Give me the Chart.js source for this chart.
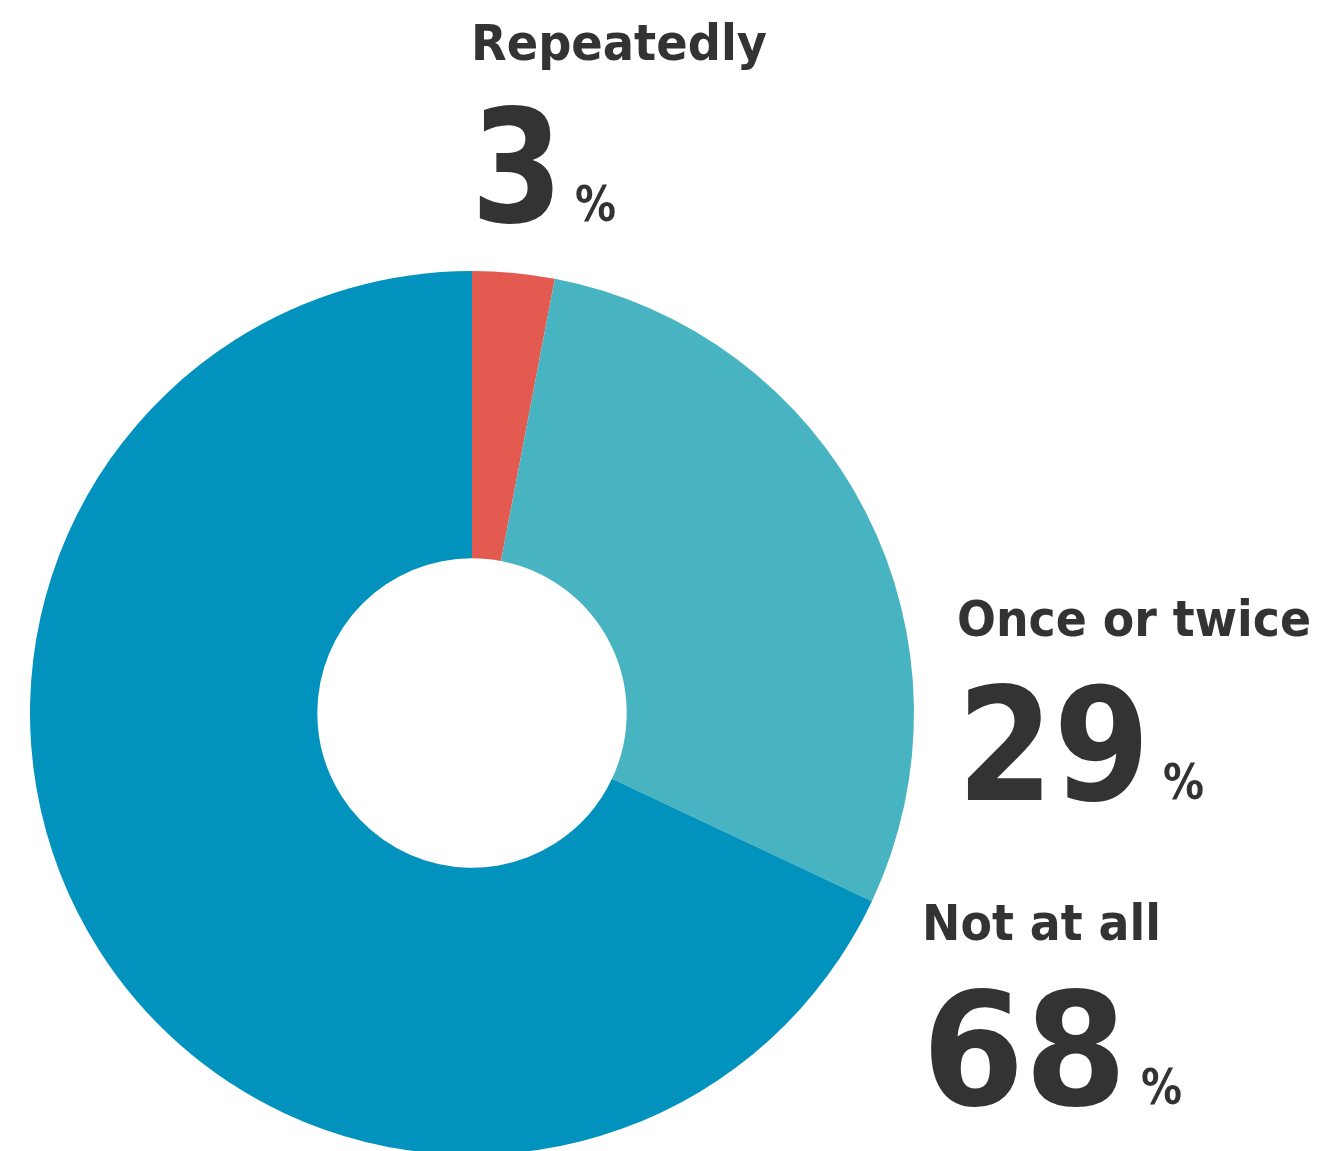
<!DOCTYPE html>
<html>
<head>
<meta charset="utf-8">
<script src="https://cdn.jsdelivr.net/npm/chart.js@4.4.1/dist/chart.umd.min.js"></script>
<style>
  html, body { margin: 0; padding: 0; background: #fff; overflow: hidden; }
  .chart { position: absolute; left: 0; top: 0; width: 1322px; height: 1200px; }
</style>
</head>
<body>
<div class="chart"><canvas id="donut"></canvas></div>
<script>
const answers = ['Repeatedly', 'Once or twice', 'Not at all']
const shares = [3, 29, 68]
const sliceColors = ['#E35A50', '#48B3C1', '#0292BE']

// where each answer's caption sits: left edge, baselines, widths of name / number
const captionSpots = [
  { x: 471, nameY: 60, numY: 222, nameW: 296, numW: 92, pctX: 575 },
  { x: 957, nameY: 636, numY: 800, nameW: 354, numW: 193, pctX: 1163 },
  { x: 922, nameY: 940, numY: 1105, nameW: 239, numW: 205, pctX: 1141 }
]

const FONT = '"DejaVu Sans", sans-serif'
const INK = '#333333'

// stretch text horizontally so the bold face fills the given width
function fitText(ctx, text, x, y, font, w) {
  ctx.font = font
  const real = ctx.measureText(text).width
  const sx = w ? w / real : 1
  ctx.save()
  ctx.translate(x, y)
  ctx.scale(sx, 1)
  ctx.fillText(text, 0, 0)
  ctx.restore()
}

const captionsPlugin = {
  id: 'captions',
  afterDraw(chart) {
    const ctx = chart.ctx
    ctx.save()
    ctx.fillStyle = INK
    ctx.textBaseline = 'alphabetic'
    ctx.textAlign = 'left'
    answers.forEach((name, i) => {
      const spot = captionSpots[i]
      fitText(ctx, name, spot.x, spot.nameY, 'bold 49px ' + FONT, spot.nameW)
      fitText(ctx, String(shares[i]), spot.x, spot.numY, 'bold 156px ' + FONT, spot.numW)
      fitText(ctx, '%', spot.pctX, spot.numY - 1, 'bold 50px ' + FONT, 41)
    })
    ctx.restore()
  }
}

const ctx = document.getElementById('donut')
new Chart(ctx, {
  type: 'doughnut',
  data: {
    labels: answers,
    datasets: [{
      data: shares,
      backgroundColor: sliceColors,
      borderWidth: 0,
      hoverOffset: 0
    }]
  },
  options: {
    responsive: true,
    maintainAspectRatio: false,
    animation: false,
    cutout: '35%',
    layout: { padding: { left: 30, right: 408, top: 271, bottom: 45 } },
    plugins: {
      legend: { display: false },
      tooltip: { enabled: false }
    }
  },
  plugins: [captionsPlugin]
})
</script>
</body>
</html>
